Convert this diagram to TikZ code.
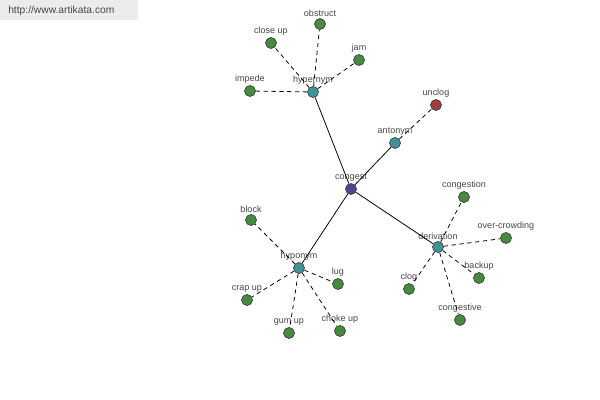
\documentclass[tikz,border=0pt]{standalone}
\usepackage{fontspec}
\setmainfont{Liberation Sans}
\definecolor{rootcol}{RGB}{72,72,150}
\definecolor{hubcol}{RGB}{62,148,150}
\definecolor{leafcol}{RGB}{70,138,62}
\definecolor{oppcol}{RGB}{160,60,60}
\definecolor{lblgray}{RGB}{70,70,70}
\definecolor{urlbg}{RGB}{236,236,236}
\tikzset{
	dot/.style={circle, draw=black!75, line width=0.5pt, inner sep=0pt, minimum size=0.275cm},
	hub/.style={dot, fill=hubcol},
	leaf/.style={dot, fill=leafcol},
	lbl/.style={font=\fontsize{6.4}{7}\selectfont, text=lblgray, inner sep=0.5pt, label distance=0.6pt},
	rel/.style={line width=0.55pt, dash pattern=on 3pt off 2.6pt}
}
\begin{document}
\begin{tikzpicture}[x=0.025cm, y=-0.025cm]
				\useasboundingbox (0,0) rectangle (600,400);
				%site box
				\fill[urlbg] (0,0) rectangle (138,20);
				\node (url) at (8,11) [anchor=west, inner sep=0pt, text=lblgray, font=\fontsize{7.3}{8}\selectfont]{http://www.artikata.com};
				
				%word and relations
				\node (congest) at (351,189) [dot, fill=rootcol, label={[lbl]above:congest}]{};
				\node (hypernym) at (313,92) [hub, label={[lbl]above:hypernym}]{};
				\node (antonym) at (395,143) [hub, label={[lbl]above:antonym}]{};
				\node (hyponym) at (299,268) [hub, label={[lbl]above:hyponym}]{};
				\node (derivation) at (438,247) [hub, label={[lbl]above:derivation}]{};
				\foreach \h in {hypernym, antonym, hyponym, derivation}{
					\draw[line width=0.55pt] (congest)--(\h);
				}
				
				%related words
				\node (unclog) at (436,105) [dot, fill=oppcol, label={[lbl]above:unclog}]{};
				\draw[rel] (antonym)--(unclog);
				\foreach \n/\x/\y/\txt/\h in {
					obstruct/320/24/obstruct/hypernym, closeup/271/43/close up/hypernym,
					jam/359/60/jam/hypernym, impede/250/91/impede/hypernym,
					block/251/220/block/hyponym, crapup/247/300/crap up/hyponym,
					lug/338/284/lug/hyponym, gumup/289/333/gum up/hyponym,
					chokeup/340/331/choke up/hyponym,
					congestion/464/197/congestion/derivation, overcrowding/506/238/over-crowding/derivation,
					backup/479/278/backup/derivation, clog/409/289/clog/derivation,
					congestive/460/320/congestive/derivation}{
					\node (\n) at (\x,\y) [leaf, label={[lbl]above:\txt}]{};
					\draw[rel] (\h)--(\n);
				}
			\end{tikzpicture}
\end{document}
